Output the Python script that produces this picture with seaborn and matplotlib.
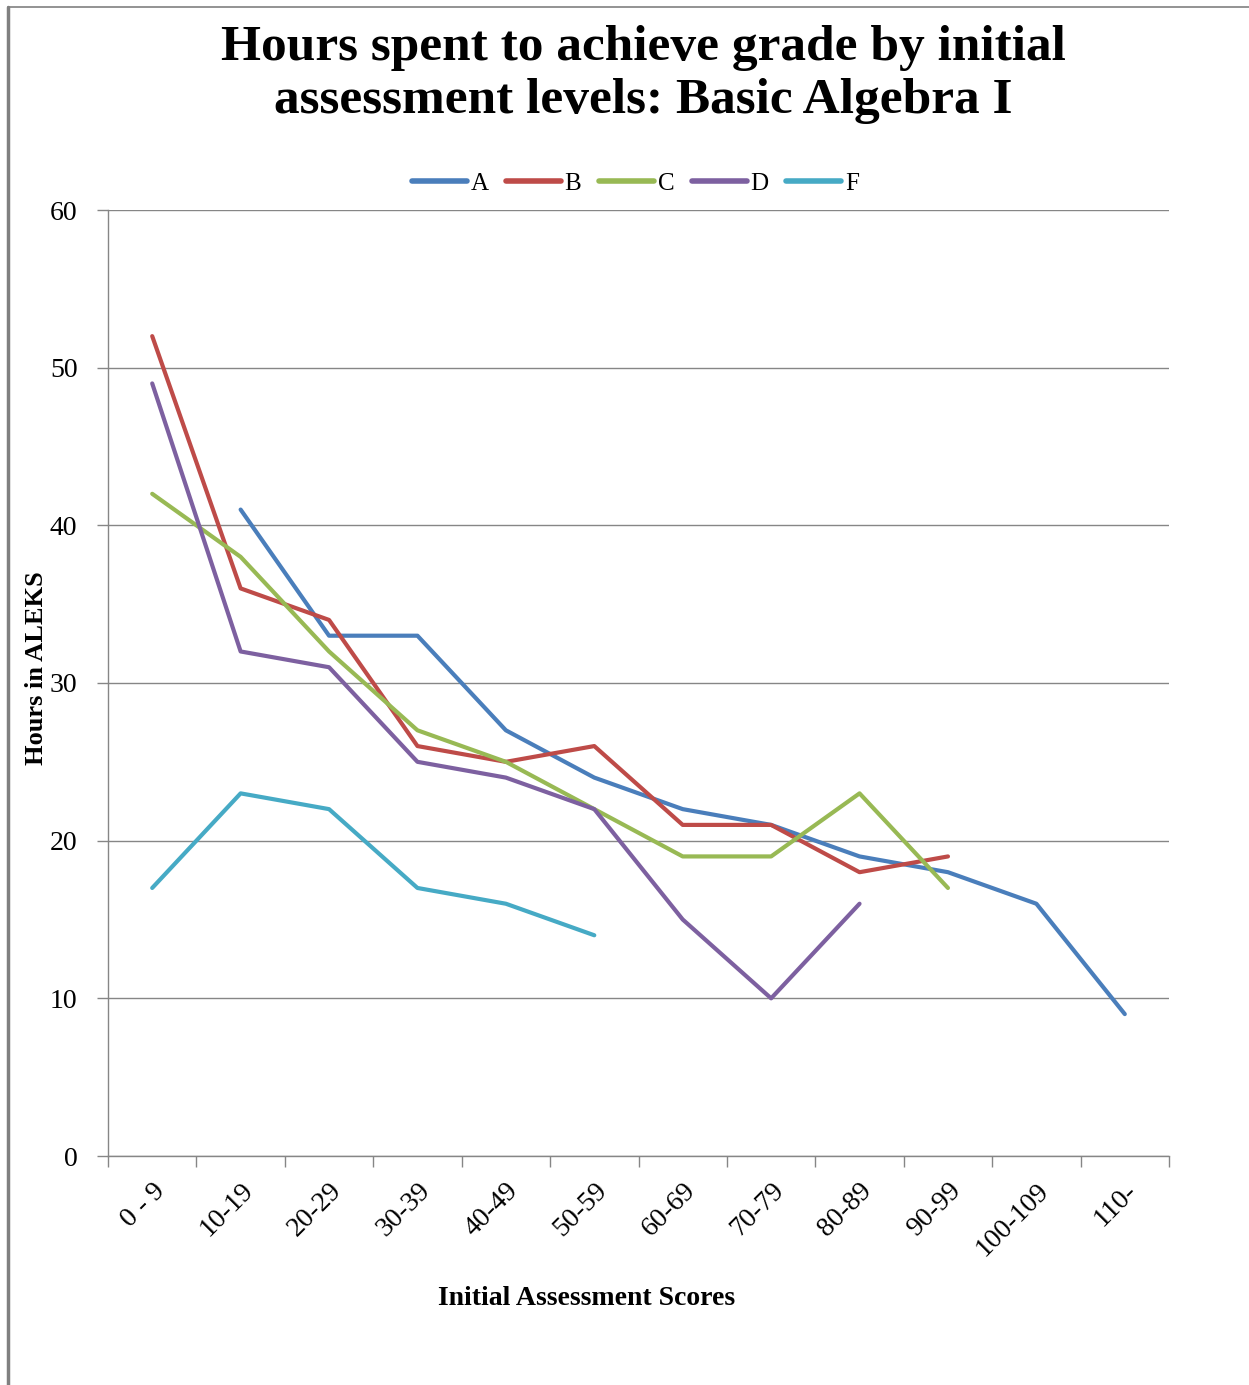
import numpy as np
import pandas as pd
import matplotlib.pyplot as plt
import seaborn as sns
from matplotlib.lines import Line2D

categories = ["0 - 9", "10-19", "20-29", "30-39", "40-49", "50-59",
              "60-69", "70-79", "80-89", "90-99", "100-109", "110-"]
grade_a = [np.nan, 41, 33, 33, 27, 24, 22, 21, 19, 18, 16, 9]
grade_b = [52, 36, 34, 26, 25, 26, 21, 21, 18, 19, np.nan, np.nan]
grade_c = [42, 38, 32, 27, 25, 22, 19, 19, 23, 17, np.nan, np.nan]
grade_d = [49, 32, 31, 25, 24, 22, 15, 10, 16, np.nan, np.nan, np.nan]
grade_f = [17, 23, 22, 17, 16, 14, np.nan, np.nan, np.nan, np.nan, np.nan, np.nan]
grades = ["A", "B", "C", "D", "F"]
colors = ["#4A7EBB", "#BE4B48", "#98B954", "#7D60A0", "#46AAC5"]

wide = pd.DataFrame({"A": grade_a, "B": grade_b, "C": grade_c, "D": grade_d, "F": grade_f})
wide["pos"] = range(len(categories))
df = wide.melt(id_vars="pos", var_name="Grade", value_name="Hours").dropna()

sns.set_theme(style="white")
plt.rcParams["font.family"] = ["Liberation Serif", "DejaVu Serif"]
plt.rcParams["text.color"] = "black"
plt.rcParams["xtick.color"] = "black"
plt.rcParams["ytick.color"] = "black"
plt.rcParams["axes.labelcolor"] = "black"

fig = plt.figure(figsize=(12.49, 13.85), dpi=100)
ax = fig.add_axes([108 / 1249, 229 / 1385, (1169 - 108) / 1249, (1175 - 229) / 1385])

sns.lineplot(data=df, x="pos", y="Hours", hue="Grade", hue_order=grades,
             palette=colors, linewidth=3.0, ax=ax, legend=True)

ax.set_xlim(-0.5, len(categories) - 0.5)
ax.set_ylim(0, 60)
ax.set_yticks(range(0, 61, 10))
ax.yaxis.grid(True, color="#868686", linewidth=1)
ax.set_axisbelow(True)
for s in ["top", "right"]:
    ax.spines[s].set_visible(False)
for s in ["left", "bottom"]:
    ax.spines[s].set_color("#868686")
    ax.spines[s].set_linewidth(1)

ax.set_xticks(range(len(categories)))
ax.set_xticklabels(categories, rotation=45, ha="right", rotation_mode="anchor", fontsize=20)
ax.set_xticks(np.arange(-0.5, len(categories), 1.0), minor=True)
ax.tick_params(axis="x", which="major", length=0, pad=16)
ax.tick_params(axis="x", which="minor", length=8, width=1, color="#868686", direction="out", bottom=True)
ax.tick_params(axis="y", length=8, width=1, color="#868686", labelcolor="black",
               direction="out", left=True, labelsize=20, pad=14)

ax.set_xlabel("Initial Assessment Scores", fontsize=20, fontweight="bold")
ax.set_ylabel("Hours in ALEKS", fontsize=19, fontweight="bold")
ax.xaxis.set_label_coords(0.451, -0.1374)
ax.yaxis.set_label_coords(-0.0566, 0.516)

handles, labels = ax.get_legend_handles_labels()
leg = ax.legend(handles, labels, loc="lower center", bbox_to_anchor=(0.497, 1.0), ncol=5,
                frameon=False, fontsize=18, handlelength=2.2, handletextpad=0.15,
                columnspacing=0.7, borderaxespad=0.2)
for h in leg.get_lines():
    h.set_solid_capstyle("round")
    h.set_linewidth(4)

fig.suptitle("Hours spent to achieve grade by initial\nassessment levels: Basic Algebra I",
             x=0.515, y=0.982, fontsize=37, fontweight="bold", linespacing=1.2)

fig.add_artist(Line2D([8 / 1249, 8 / 1249], [0, 1 - 7 / 1385], color="#808080", linewidth=2.5))
fig.add_artist(Line2D([8 / 1249, 1], [1 - 7 / 1385, 1 - 7 / 1385], color="#808080", linewidth=1.2))

fig.savefig("out.png", dpi=100, facecolor="white")
